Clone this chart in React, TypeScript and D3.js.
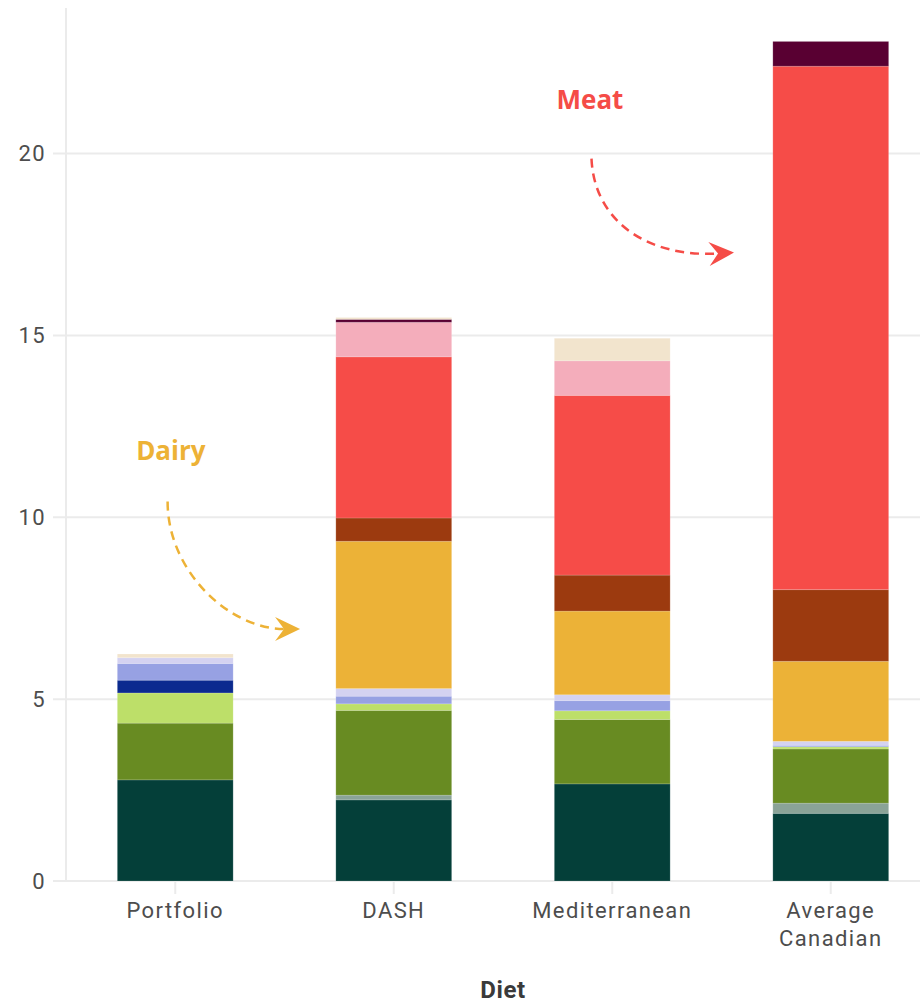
import React from "react";
import * as d3 from "d3";

// Diets along the x axis
const diets = ["Portfolio", "DASH", "Mediterranean", "Average Canadian"];

// Food-group amounts per diet (same order as `diets`)
const grains = [2.78, 2.23, 2.67, 1.86];
const plantOils = [0, 0.13, 0, 0.28];
const vegetables = [1.56, 2.33, 1.77, 1.49];
const fruit = [0.83, 0.18, 0.24, 0.06];
const soy = [0.35, 0, 0, 0];
const nuts = [0.46, 0.21, 0.28, 0.04];
const legumes = [0.16, 0.21, 0.16, 0.11];
const dairy = [0, 4.05, 2.3, 2.2];
const poultry = [0, 0.64, 0.99, 1.97];
const meat = [0, 4.43, 4.94, 14.39];
const fish = [0, 0.95, 0.95, 0];
const processedMeat = [0, 0.08, 0, 0.68];
const sweets = [0.1, 0.05, 0.62, 0];

const yTicks = [0, 5, 10, 15, 20];

const groups = [
  { key: "grains", values: grains, color: "#043f39" },
  { key: "plantOils", values: plantOils, color: "#8aa397" },
  { key: "vegetables", values: vegetables, color: "#688b22" },
  { key: "fruit", values: fruit, color: "#bddf69" },
  { key: "soy", values: soy, color: "#0b2a8f" },
  { key: "nuts", values: nuts, color: "#97a1e3" },
  { key: "legumes", values: legumes, color: "#d4d2f1" },
  { key: "dairy", values: dairy, color: "#ecb237" },
  { key: "poultry", values: poultry, color: "#9c3a0f" },
  { key: "meat", values: meat, color: "#f64c48" },
  { key: "fish", values: fish, color: "#f4adbb" },
  { key: "processedMeat", values: processedMeat, color: "#590032" },
  { key: "sweets", values: sweets, color: "#f2e4cd" },
];

const W = 920;
const H = 1006;
const FONT = "Roboto, 'DejaVu Sans', sans-serif";
const GRID = "#ebebeb";

export default function App() {
  const x = d3
    .scaleBand<string>()
    .domain(diets)
    .range([66, 940])
    .paddingInner(0.47)
    .paddingOuter(0.235);
  const y = d3.scaleLinear().domain([0, 24]).range([881, 8]);
  const bw = x.bandwidth();
  const cx = (d: string) => (x(d) as number) + bw / 2;
  // band-index coordinate for annotations placed between bars
  const xi = d3.scaleLinear().domain([0, 3]).range([cx(diets[0]), cx(diets[3])]);

  const table = diets.map((d, i) => {
    const row: Record<string, any> = { diet: d };
    groups.forEach((g) => (row[g.key] = g.values[i]));
    return row;
  });
  const stacked = d3.stack().keys(groups.map((g) => g.key))(table as any);

  const arrow = (pts: [number, number][], color: string) => {
    const p = pts.map(([i, v]) => [xi(i), y(v)] as [number, number]);
    const [s, c1, c2, e] = p;
    const path = d3.path();
    path.moveTo(s[0], s[1]);
    path.bezierCurveTo(c1[0], c1[1], c2[0], c2[1], e[0], e[1]);
    const ang = Math.atan2(e[1] - c2[1], e[0] - c2[0]);
    const ux = Math.cos(ang), uy = Math.sin(ang);
    const nx = -uy, ny = ux;
    const tip = [e[0] + 16 * ux, e[1] + 16 * uy];
    const b1 = [e[0] - 9 * ux + 12 * nx, e[1] - 9 * uy + 12 * ny];
    const b2 = [e[0] - 9 * ux - 12 * nx, e[1] - 9 * uy - 12 * ny];
    const head = `M${tip[0]},${tip[1]}L${b1[0]},${b1[1]}L${e[0]},${e[1]}L${b2[0]},${b2[1]}Z`;
    return (
      <g>
        <path d={path.toString()} fill="none" stroke={color} strokeWidth={2.5} strokeDasharray="9 6" />
        <path d={head} fill={color} />
      </g>
    );
  };

  return (
    <svg
      width={W}
      height={H}
      style={{ position: "absolute", left: 0, top: 0, background: "#fff" }}
      fontFamily={FONT}
    >
      {/* horizontal gridlines with y ticks */}
      {yTicks.map((t) => (
        <g key={t}>
          <line x1={53} x2={W} y1={y(t)} y2={y(t)} stroke={GRID} strokeWidth={2} />
          <text x={46} y={y(t)} textAnchor="end" dominantBaseline="central" fontSize={22} letterSpacing={1.4} fill="#4d4d4d">
            {t}
          </text>
        </g>
      ))}
      {/* y axis line */}
      <line x1={66} x2={66} y1={8} y2={881} stroke={GRID} strokeWidth={2} />

      {/* x ticks and labels */}
      {diets.map((d) => {
        const lines = d === "Average Canadian" ? ["Average", "Canadian"] : [d];
        return (
          <g key={d}>
            <line x1={cx(d)} x2={cx(d)} y1={881} y2={894} stroke={GRID} strokeWidth={2} />
            {lines.map((l, j) => (
              <text key={l} x={cx(d)} y={918 + j * 28} textAnchor="middle" fontSize={22} letterSpacing={1.4} fill="#4d4d4d">
                {l}
              </text>
            ))}
          </g>
        );
      })}

      {/* stacked bars */}
      {stacked.map((layer, li) => (
        <g key={layer.key} fill={groups[li].color}>
          {layer.map((seg, i) =>
            seg[1] - seg[0] > 0 ? (
              <rect
                key={i}
                x={x(diets[i])}
                width={bw}
                y={y(seg[1])}
                height={y(seg[0]) - y(seg[1])}
                stroke="#ffffff"
                strokeOpacity={0.15}
                strokeWidth={1}
              />
            ) : null
          )}
        </g>
      ))}

      {/* annotations */}
      <text x={xi(-0.02)} y={y(11.86)} textAnchor="middle" dominantBaseline="central" fontSize={26} fontWeight={700} fill="#edb236" fontFamily="'Open Sans', sans-serif">
        Dairy
      </text>
      {arrow(
        [
          [-0.035, 10.43],
          [-0.035, 8.5],
          [0.25, 6.93],
          [0.498, 6.93],
        ],
        "#edb236"
      )}
      <text x={xi(1.898)} y={y(21.49)} textAnchor="middle" dominantBaseline="central" fontSize={26} fontWeight={700} fill="#f54c47" fontFamily="'Open Sans', sans-serif">
        Meat
      </text>
      {arrow(
        [
          [1.905, 19.86],
          [1.917, 18.13],
          [2.163, 17.14],
          [2.484, 17.25],
        ],
        "#f54c47"
      )}

      {/* x axis title */}
      <text x={(66 + 940) / 2} y={998} textAnchor="middle" fontSize={24} letterSpacing={0.6} fontWeight={700} fill="#3a3a3a">
        Diet
      </text>
    </svg>
  );
}
